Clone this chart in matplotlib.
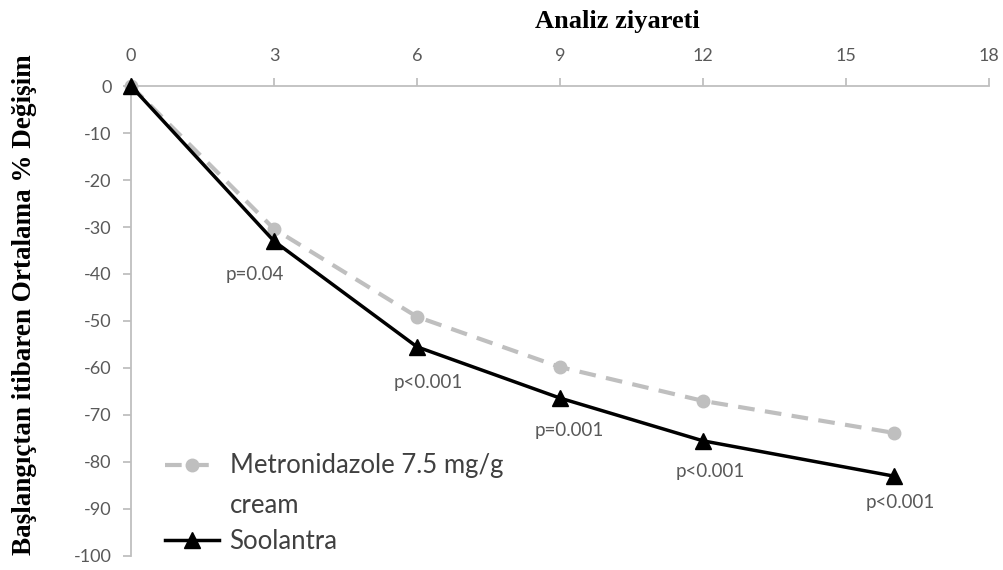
import numpy as np
import matplotlib.pyplot as plt

plt.rcParams["axes.unicode_minus"] = False

# Datos
visitas = [0, 3, 6, 9, 12, 16]
metronidazol = [0, -30.4, -49.1, -59.8, -67.0, -73.8]
soolantra = [0, -33.0, -55.5, -66.4, -75.5, -83.0]
p_valores = ["", "p=0.04", "p<0.001", "p=0.001", "p<0.001", "p<0.001"]
xticks = [0, 3, 6, 9, 12, 15, 18]
yticks = [0, -10, -20, -30, -40, -50, -60, -70, -80, -90, -100]

# desplazamiento (puntos) de cada etiqueta p respecto al triangulo
p_offsets = [(0, 0), (-14, -24), (8, -26), (7, -23), (5, -22), (5, -19)]

gris_eje = "#BFBFBF"
gris_texto = "#595959"

fig = plt.figure(figsize=(10.04, 5.70), dpi=100)
ax = fig.add_axes([0.1305, 0.0246, 0.8545, 0.8245])

ax.plot(visitas, metronidazol, color="#BFBFBF", linestyle=(0, (4, 2.5)), linewidth=3,
        marker="o", markersize=9, label="Metronidazole 7.5 mg/g\ncream", zorder=2)
ax.plot(visitas, soolantra, color="black", linewidth=2.5,
        marker="^", markersize=11, label="Soolantra", zorder=3)

for x, y, p, off in zip(visitas, soolantra, p_valores, p_offsets):
    if p:
        ax.annotate(p, (x, y), xytext=off, textcoords="offset points",
                    ha="center", va="center", fontsize=13.5, color=gris_texto, family="Lato")

ax.set_xlim(0, 18)
ax.set_ylim(-100, 0)
ax.set_xticks(xticks)
ax.set_yticks(yticks)

# eje x arriba, en y=0
ax.xaxis.tick_top()
ax.spines["bottom"].set_visible(False)
ax.spines["right"].set_visible(False)
ax.spines["top"].set_color(gris_eje)
ax.spines["left"].set_color(gris_eje)
ax.spines["top"].set_linewidth(1.3)
ax.spines["left"].set_linewidth(1.3)
ax.tick_params(axis="both", colors=gris_eje, labelcolor=gris_texto, labelsize=13,
               length=6, width=1.3, direction="out")
ax.tick_params(axis="x", pad=10)
ax.tick_params(axis="y", pad=8)
for lab in ax.get_xticklabels() + ax.get_yticklabels():
    lab.set_family("Lato")
for ln in ax.lines:
    ln.set_clip_on(False)

fig.text(0.615, 0.962, "Analiz ziyareti", ha="center", va="center",
         fontsize=19, fontweight="bold", family="Liberation Serif")
fig.text(0.024, 0.465, "Başlangıçtan itibaren Ortalama % Değişim", ha="center", va="center",
         rotation=90, fontsize=19.5, fontweight="bold", family="Liberation Serif")

leg = ax.legend(loc="lower left", bbox_to_anchor=(0.028, -0.018), frameon=False,
                prop={"family": "Lato", "size": 18.5}, handlelength=2.1,
                labelspacing=0.45, handletextpad=0.4, borderaxespad=0.0)
for t in leg.get_texts():
    t.set_color("#404040")
    t.set_linespacing(1.75)

# la muestra de la primera entrada va alineada con su primera linea de texto
h = leg.legend_handles[0]
h.set_ydata(np.asarray(h.get_ydata()) + 15)

plt.savefig("out.png", dpi=100)
